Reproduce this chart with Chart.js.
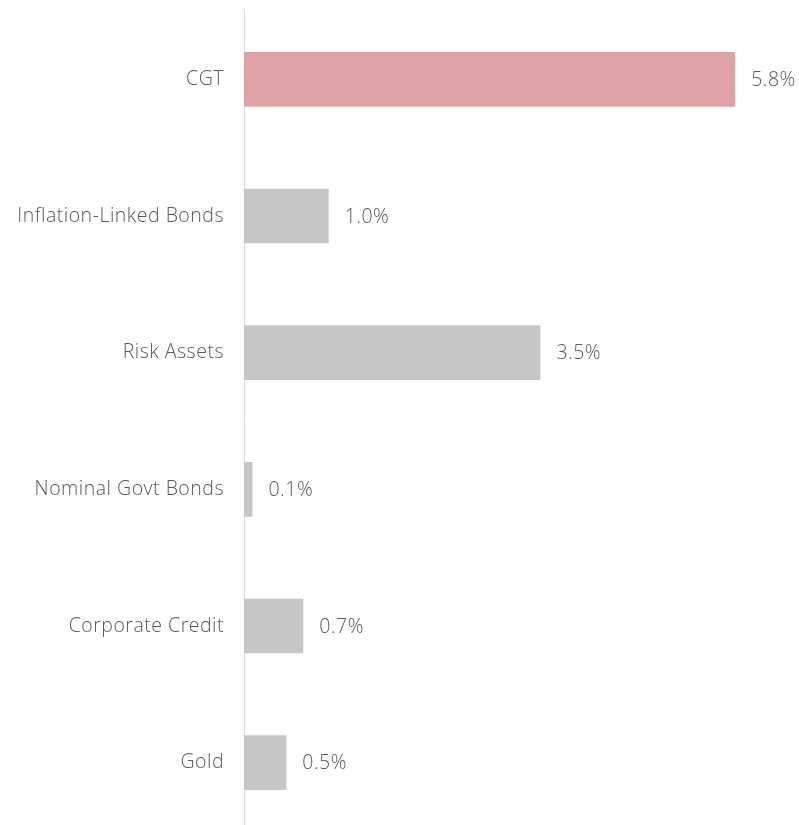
<!DOCTYPE html>
<html>
<head>
<meta charset="utf-8">
<script src="https://cdn.jsdelivr.net/npm/chart.js@4"></script>
<style>
  html, body { margin: 0; padding: 0; background: #fff; overflow: hidden; }
  #wrap { width: 799px; height: 831px; position: relative; }
</style>
</head>
<body>
<div id="wrap"><canvas id="myChart"></canvas></div>
<script>
const categories = ['CGT', 'Inflation-Linked Bonds', 'Risk Assets', 'Nominal Govt Bonds', 'Corporate Credit', 'Gold'];
const values = [5.8, 1.0, 3.5, 0.1, 0.7, 0.5];
const barColors = ['#dfa3a7', '#c6c6c4', '#c6c6c4', '#c6c6c4', '#c6c6c4', '#c6c6c4'];

const textColor = '#595959';
const fontFamily = '"Open Sans", sans-serif';
const fontSize = 19.5;

// a little tracking on all the text (canvas resets it on resize, so set it each draw)
const tracking = {
  id: 'tracking',
  beforeUpdate(chart) { chart.ctx.letterSpacing = '0.5px'; },
  beforeDraw(chart) { chart.ctx.letterSpacing = '0.5px'; }
};

// writes "x.x%" to the right of each bar
const valueLabels = {
  id: 'valueLabels',
  afterDatasetsDraw(chart) {
    const ctx = chart.ctx;
    const meta = chart.getDatasetMeta(0);
    ctx.save();
    ctx.font = '300 ' + fontSize + 'px ' + fontFamily;
    ctx.fillStyle = textColor;
    ctx.textAlign = 'left';
    ctx.textBaseline = 'middle';
    meta.data.forEach((bar, i) => {
      ctx.fillText(values[i].toFixed(1) + '%', bar.x + 16, bar.y + 1);
    });
    ctx.restore();
  }
};

new Chart(document.getElementById('myChart'), {
  type: 'bar',
  data: {
    labels: categories,
    datasets: [{
      data: values,
      backgroundColor: barColors,
      barPercentage: 0.4,
      categoryPercentage: 1.0
    }]
  },
  options: {
    indexAxis: 'y',
    responsive: true,
    maintainAspectRatio: false,
    animation: false,
    layout: { padding: { top: 11, right: 4.5, bottom: 0, left: 0 } },
    plugins: {
      legend: { display: false },
      tooltip: { enabled: false }
    },
    scales: {
      x: {
        display: false,
        min: 0,
        max: 6.5
      },
      y: {
        afterFit(scale) {
          scale.width = 244;
          scale.paddingTop = 0;
          scale.paddingBottom = 0;
        },
        grid: { display: false, drawTicks: false },
        border: { display: true, color: '#d9dde0', width: 1 },
        ticks: {
          color: textColor,
          padding: 20,
          font: { family: fontFamily, size: fontSize, weight: '300' }
        }
      }
    }
  },
  plugins: [tracking, valueLabels]
});
</script>
</body>
</html>
